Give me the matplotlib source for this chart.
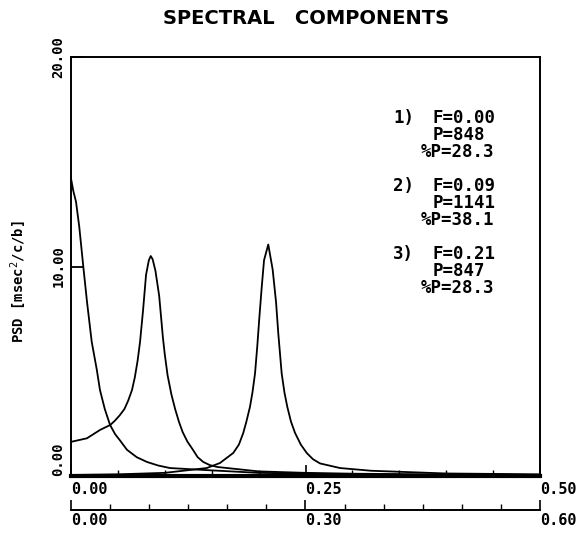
import matplotlib
matplotlib.use("Agg")
import matplotlib.pyplot as plt
from matplotlib.ticker import MultipleLocator, FixedLocator

# spectral components (frequency in c/b, PSD in msec^2/c/b)
freq1 = [0.000, 0.0025, 0.0053, 0.0088, 0.0131, 0.0171, 0.0221, 0.0274, 0.0309,
         0.036, 0.0416, 0.047, 0.0522, 0.0597, 0.070, 0.081, 0.093, 0.1055, 0.141,
         0.20, 0.30, 0.40, 0.50]
psd1 = [14.2, 13.6, 13.1, 11.9, 10.0, 8.3, 6.4, 5.1, 4.1,
        3.2, 2.44, 2.0, 1.7, 1.25, 0.9, 0.67, 0.5, 0.38, 0.29,
        0.15, 0.08, 0.05, 0.04]

freq2 = [0.000, 0.017, 0.031, 0.042, 0.047, 0.052, 0.057, 0.061, 0.065, 0.068,
         0.071, 0.0736, 0.0768, 0.080, 0.083, 0.085, 0.087, 0.090, 0.094, 0.098,
         0.100, 0.103, 0.107, 0.111, 0.115, 0.119, 0.124, 0.130, 0.135, 0.141,
         0.148, 0.156, 0.20, 0.25, 0.30, 0.40, 0.50]
psd2 = [1.63, 1.8, 2.2, 2.44, 2.65, 2.9, 3.2, 3.6, 4.1, 4.7,
        5.5, 6.4, 7.9, 9.6, 10.3, 10.5, 10.35, 9.8, 8.6, 6.6,
        5.8, 4.8, 3.9, 3.2, 2.6, 2.1, 1.65, 1.25, 0.9, 0.67,
        0.52, 0.43, 0.22, 0.15, 0.11, 0.07, 0.05]

freq3 = [0.0, 0.05, 0.10, 0.1447, 0.1588, 0.173, 0.179, 0.1837, 0.187, 0.1908,
         0.1935, 0.1962, 0.1986, 0.2007, 0.2033, 0.2058, 0.2103, 0.215, 0.2186,
         0.221, 0.2246, 0.2275, 0.2306, 0.2345, 0.2388, 0.245, 0.2513, 0.258,
         0.2655, 0.2868, 0.32, 0.40, 0.50]
psd3 = [0.05, 0.08, 0.15, 0.38, 0.62, 1.1, 1.5, 2.06, 2.6, 3.3,
        4.0, 4.9, 6.2, 7.5, 9.0, 10.3, 11.05, 9.85, 8.3,
        6.8, 4.9, 4.0, 3.3, 2.6, 2.06, 1.5, 1.1, 0.8,
        0.6, 0.38, 0.25, 0.12, 0.08]

# component summary printed on the plot
comp_num = [1, 2, 3]
comp_F = [0.00, 0.09, 0.21]
comp_P = [848, 1141, 847]
comp_pct = [28.3, 38.1, 28.3]

xticks = [0.00, 0.25, 0.50]
yticks = [0.0, 10.0, 20.0]
sec_ticks = [0.00, 0.30, 0.60]   # second scale under the frequency axis

W, H = 577, 533
mono = "DejaVu Sans Mono"

fig = plt.figure(figsize=(W / 100, H / 100), dpi=100)
ax = fig.add_axes([71 / W, 1 - 476 / H, 469 / W, 419 / H])

for f, p in [(freq1, psd1), (freq2, psd2), (freq3, psd3)]:
    ax.plot(f, p, color="black", lw=1.3)

ax.set_xlim(0, 0.5)
ax.set_ylim(0, 20)
for s in ax.spines.values():
    s.set_linewidth(1.4)
ax.spines["bottom"].set_linewidth(3)

ax.set_xticks(xticks)
ax.set_xticklabels([f"{v:.2f}" for v in xticks], fontfamily=mono,
                   fontweight="bold", fontsize=11, ha="left")
ax.xaxis.set_minor_locator(MultipleLocator(0.05))
ax.tick_params(axis="x", which="major", direction="in", length=8, width=1.2, pad=4)
ax.tick_params(axis="x", which="minor", direction="in", length=4, width=1)

ax.set_yticks(yticks)
ax.set_yticklabels([f"{v:.2f}" for v in yticks], fontfamily=mono,
                   fontweight="bold", fontsize=10, rotation=90, va="center")
ax.get_yticklabels()[0].set_va("bottom")
ax.tick_params(axis="y", which="major", direction="in", length=9, width=1.3, pad=4)
ax.tick_params(top=False, right=False)

ax.set_ylabel("PSD [msec$^2$/c/b]", fontfamily=mono, fontweight="bold", fontsize=10)
ax.yaxis.set_label_coords((29 - 71) / 469, (476 - 282) / 419)

# second scale drawn below the frequency axis
sec = ax.secondary_xaxis((476 - 510) / 419, functions=(lambda f: f * 1.2, lambda t: t / 1.2))
sec.xaxis.set_major_locator(FixedLocator(sec_ticks))
sec.xaxis.set_minor_locator(MultipleLocator(0.05))
sec.set_xticklabels([f"{v:.2f}" for v in sec_ticks], fontfamily=mono,
                    fontweight="bold", fontsize=11, ha="left")
sec.tick_params(axis="x", which="major", direction="in", length=7, width=1.2, pad=2)
sec.tick_params(axis="x", which="minor", direction="in", length=4, width=1)
sec.spines["bottom"].set_linewidth(1.4)

fig.text(306 / W, 1 - 18 / H, "SPECTRAL   COMPONENTS", ha="center", va="center",
         fontsize=14, fontweight="bold", fontfamily="DejaVu Sans")

# component annotation block
def px(x, y):
    return (x - 71) / 469, (476 - y) / 419

for k in range(3):
    y0 = 118 + 68 * k
    ax.text(*px(393, y0), f"{comp_num[k]})", transform=ax.transAxes, ha="left",
            va="center", fontfamily=mono, fontweight="bold", fontsize=12.5)
    ax.text(*px(433, y0), f"F={comp_F[k]:.2f}", transform=ax.transAxes, ha="left",
            va="center", fontfamily=mono, fontweight="bold", fontsize=12.5)
    ax.text(*px(433, y0 + 17), f"P={comp_P[k]}", transform=ax.transAxes, ha="left",
            va="center", fontfamily=mono, fontweight="bold", fontsize=12.5)
    ax.text(*px(421, y0 + 34), f"%P={comp_pct[k]:.1f}", transform=ax.transAxes,
            ha="left", va="center", fontfamily=mono, fontweight="bold", fontsize=12.5)

fig.savefig("out.png", dpi=100)
